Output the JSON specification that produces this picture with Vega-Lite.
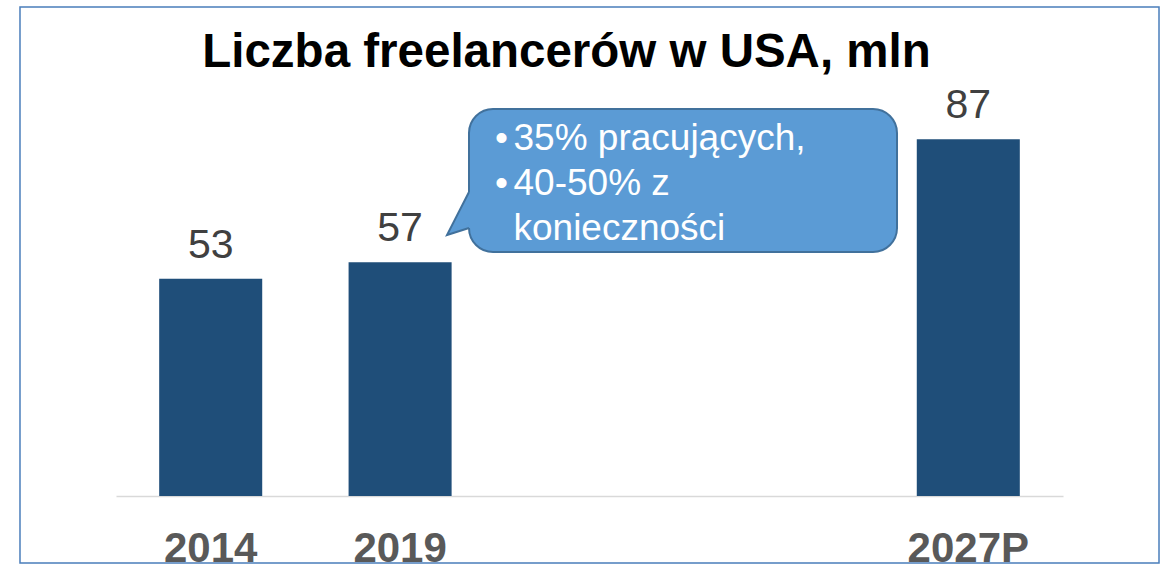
{
  "$schema": "https://vega.github.io/schema/vega-lite/v6.json",
  "width": 947,
  "height": 410,
  "autosize": "none",
  "padding": {"left": 116, "top": 86, "right": 108, "bottom": 68},
  "background": "#ffffff",
  "config": {"view": {"stroke": null}, "font": "Liberation Sans"},
  "title": {
    "text": "Liczba freelancerów w USA, mln",
    "font": "Liberation Sans",
    "fontSize": 47.5,
    "fontWeight": "bold",
    "color": "#000000",
    "anchor": "middle",
    "frame": "group",
    "baseline": "alphabetic",
    "offset": 0,
    "dy": 108,
    "dx": -23
  },
  "layer": [
    {
      "data": {"values": [
        {"year": "2014", "value": 53},
        {"year": "2019", "value": 57},
        {"year": "2027P", "value": 87}
      ]},
      "encoding": {
        "x": {
          "field": "year",
          "type": "nominal",
          "sort": null,
          "scale": {"domain": ["2014", "2019", "x1", "x2", "2027P"], "paddingInner": 0.456, "paddingOuter": 0.228},
          "axis": {
            "title": null,
            "ticks": false,
            "grid": false,
            "labelAngle": 0,
            "domainColor": "#D9D9D9",
            "domainWidth": 1.5,
            "labelFont": "Liberation Sans",
            "labelFontSize": 42,
            "labelFontWeight": "bold",
            "labelColor": "#595959",
            "labelPadding": 32,
            "labelOverlap": false,
            "labelExpr": "datum.value == 'x1' || datum.value == 'x2' ? '' : datum.label"
          }
        },
        "y": {
          "field": "value",
          "type": "quantitative",
          "scale": {"domain": [0, 100], "nice": false},
          "axis": null
        }
      },
      "layer": [
        {"mark": {"type": "bar", "color": "#1F4E79"}},
        {
          "mark": {"type": "text", "dy": -21, "baseline": "alphabetic", "align": "center", "fontSize": 41, "color": "#404040", "font": "Liberation Sans"},
          "encoding": {"text": {"field": "value", "type": "quantitative"}}
        }
      ]
    },
    {
      "data": {"values": [{"note": "callout"}]},
      "layer": [
        {
          "mark": {"type": "rect", "filled": false, "stroke": "#4A7EBB", "strokeWidth": 1.5},
          "encoding": {
            "x": {"datum": -0.5069, "type": "quantitative", "scale": {"domain": [0, 5], "nice": false, "zero": false}, "axis": null},
            "x2": {"datum": 5.5069},
            "y": {"datum": 119.27, "type": "quantitative"},
            "y2": {"datum": -16.34}
          }
        },
        {
          "mark": {"type": "rect", "fill": "#5B9BD5", "stroke": "#41719C", "strokeWidth": 2, "cornerRadius": 24},
          "encoding": {
            "x": {"datum": 1.8638, "type": "quantitative", "scale": {"domain": [0, 5], "nice": false, "zero": false}, "axis": null},
            "x2": {"datum": 4.1236},
            "y": {"datum": 94.39, "type": "quantitative"},
            "y2": {"datum": 59.51}
          }
        },
        {
          "mark": {"type": "point", "shape": "M 3 -18 L 0 -18 L -22 25 L 0 18 L 3 18 Z", "size": 4, "filled": true, "fill": "#5B9BD5", "strokeWidth": 0, "opacity": 1},
          "encoding": {
            "x": {"datum": 1.8638, "type": "quantitative", "scale": {"domain": [0, 5], "nice": false, "zero": false}, "axis": null},
            "y": {"datum": 69.76, "type": "quantitative"}
          }
        },
        {
          "mark": {"type": "point", "shape": "M 0 -18 L -22 25 L 0 18", "size": 4, "filled": false, "stroke": "#41719C", "strokeWidth": 2, "opacity": 1, "strokeJoin": "miter"},
          "encoding": {
            "x": {"datum": 1.8638, "type": "quantitative", "scale": {"domain": [0, 5], "nice": false, "zero": false}, "axis": null},
            "y": {"datum": 69.76, "type": "quantitative"}
          }
        },
        {
          "mark": {"type": "text", "text": ["•", "•"], "align": "left", "baseline": "alphabetic", "fontSize": 37, "lineHeight": 45, "color": "#ffffff", "font": "Liberation Sans"},
          "encoding": {
            "x": {"datum": 2.0011, "type": "quantitative", "scale": {"domain": [0, 5], "nice": false, "zero": false}, "axis": null},
            "y": {"datum": 84.39, "type": "quantitative"}
          }
        },
        {
          "mark": {"type": "text", "text": ["35% pracujących,", "40-50% z", "konieczności"], "align": "left", "baseline": "alphabetic", "fontSize": 37, "lineHeight": 45, "color": "#ffffff", "font": "Liberation Sans"},
          "encoding": {
            "x": {"datum": 2.0987, "type": "quantitative", "scale": {"domain": [0, 5], "nice": false, "zero": false}, "axis": null},
            "y": {"datum": 84.39, "type": "quantitative"}
          }
        }
      ]
    }
  ],
  "resolve": {"scale": {"x": "independent"}}
}
